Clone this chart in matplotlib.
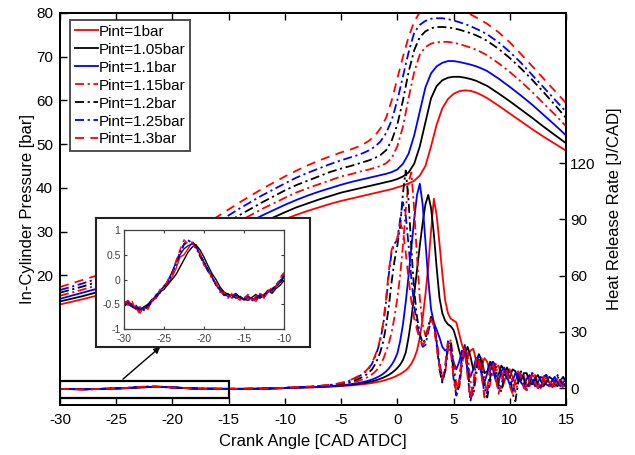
import numpy as np
import matplotlib
matplotlib.use("Agg")
import matplotlib.pyplot as plt
from matplotlib.patches import Rectangle

plt.rcParams['font.family'] = ['Liberation Sans', 'DejaVu Sans']
plt.rcParams['axes.unicode_minus'] = False

# ---------------------------------------------------------------- data
labels = ['Pint=1bar', 'Pint=1.05bar', 'Pint=1.1bar', 'Pint=1.15bar',
          'Pint=1.2bar', 'Pint=1.25bar', 'Pint=1.3bar']
colors = ['#ff0000', '#000000', '#0000ff', '#ff0000', '#000000', '#0000ff', '#ff0000']
DASHDOT = (0, (5, 2, 1.2, 2))
DASHED = (0, (5, 3.5))
styles = ['-', '-', '-', DASHDOT, DASHDOT, DASHDOT, DASHED]

# crank angle samples of the pressure traces
cad_p = np.concatenate([np.arange(-30, -9, 2), np.arange(-9, -3.5, 1),
                        np.arange(-3.5, 8.01, 0.5), np.arange(9, 15.01, 1)])

p_100 = [13.3, 14.5, 15.8, 17.3, 19.0, 21.0, 23.2, 25.7, 28.2, 30.6, 32.8,
         33.8, 34.7, 35.5, 36.3, 37.0, 37.6,
         37.9, 38.2, 38.5, 38.8, 39.1, 39.4, 39.7, 40.1, 40.5, 41.0, 41.6, 42.8,
         45.0, 49.5, 54.5, 58.2, 60.3, 61.5, 62.1, 62.3, 62.2, 61.8, 61.2, 60.5,
         58.8, 57.0, 55.2, 53.4, 51.7, 50.1, 48.5]
p_105 = [14.0, 15.2, 16.6, 18.2, 20.0, 22.1, 24.4, 27.0, 29.6, 32.1, 34.4,
         35.5, 36.4, 37.3, 38.1, 38.9, 39.5,
         39.8, 40.1, 40.4, 40.7, 41.0, 41.3, 41.6, 42.0, 42.6, 43.5, 45.5, 49.5,
         55.0, 60.5, 63.3, 64.6, 65.2, 65.4, 65.4, 65.2, 64.9, 64.5, 63.9, 63.3,
         61.6, 59.8, 57.9, 56.0, 54.0, 52.1, 50.2]
p_110 = [14.6, 16.0, 17.4, 19.0, 20.9, 23.1, 25.5, 28.3, 31.0, 33.7, 36.1,
         37.2, 38.2, 39.1, 39.9, 40.7, 41.4,
         41.7, 42.0, 42.3, 42.6, 42.9, 43.2, 43.6, 44.2, 45.5, 47.8, 52.0, 57.5,
         63.0, 66.2, 67.8, 68.6, 69.0, 69.0, 68.8, 68.5, 68.2, 67.8, 67.3, 66.7,
         65.0, 63.1, 61.1, 59.0, 56.7, 54.4, 52.0]
p_115 = [15.3, 16.7, 18.2, 19.9, 21.9, 24.2, 26.7, 29.6, 32.4, 35.2, 37.7,
         38.9, 39.9, 40.8, 41.7, 42.6, 43.2,
         43.6, 43.9, 44.2, 44.6, 45.0, 45.6, 46.8, 49.5, 54.0, 60.5, 66.5, 70.5,
         72.2, 73.0, 73.3, 73.4, 73.4, 73.2, 72.9, 72.5, 72.1, 71.6, 71.0, 70.3,
         68.5, 66.5, 64.3, 61.9, 59.3, 56.8, 54.1]
p_120 = [16.0, 17.4, 19.0, 20.8, 22.8, 25.2, 27.8, 30.8, 33.8, 36.7, 39.4,
         40.6, 41.6, 42.6, 43.6, 44.4, 45.1,
         45.5, 45.9, 46.3, 46.8, 47.5, 48.6, 50.8, 54.5, 60.0, 66.5, 71.5, 74.5,
         75.8, 76.5, 76.8, 76.8, 76.7, 76.5, 76.2, 75.8, 75.4, 74.9, 74.3, 73.6,
         71.8, 69.7, 67.3, 64.7, 61.9, 59.0, 56.0]
p_125 = [16.6, 18.1, 19.8, 21.6, 23.8, 26.3, 29.0, 32.1, 35.3, 38.3, 41.0,
         42.3, 43.4, 44.4, 45.4, 46.3, 47.1,
         47.5, 48.0, 48.6, 49.4, 50.6, 52.5, 55.5, 60.0, 65.5, 71.0, 75.5, 77.3,
         78.2, 78.7, 78.8, 78.8, 78.6, 78.3, 77.9, 77.5, 77.0, 76.4, 75.8, 75.1,
         73.3, 71.1, 68.6, 65.8, 63.0, 60.2, 57.4]
p_130 = [17.3, 18.9, 20.5, 22.5, 24.7, 27.3, 30.2, 33.4, 36.7, 39.8, 42.6,
         43.9, 45.1, 46.2, 47.2, 48.1, 48.9,
         49.4, 50.0, 50.8, 51.9, 53.6, 56.0, 60.0, 65.0, 70.0, 74.5, 78.0, 80.2,
         81.2, 81.7, 81.9, 81.8, 81.6, 81.2, 80.8, 80.3, 79.7, 79.0, 78.3, 77.5,
         75.6, 73.3, 70.6, 67.8, 65.0, 62.2, 59.4]

# crank angle samples of the heat release traces
cad_h_early = np.arange(-30, -9.9, 0.5)
cad_h_late = np.concatenate([np.arange(-9.5, -2.9, 0.5), np.arange(-2.75, 15.01, 0.25)])

# -30 .. -10 CAD (shown enlarged in the inset)
hrr_early_100 = [-0.48, -0.42, -0.52, -0.58, -0.55, -0.62, -0.5, -0.45, -0.3, -0.28,
                 -0.12, -0.08, 0.05, 0.22, 0.45, 0.5, 0.62, 0.74, 0.7, 0.52,
                 0.36, 0.18, 0.08, -0.12, -0.18, -0.32, -0.28, -0.38, -0.3, -0.36,
                 -0.42, -0.33, -0.4, -0.44, -0.32, -0.3, -0.22, -0.24, -0.12, -0.05,
                 0.05]
hrr_early_105 = [-0.52, -0.5, -0.55, -0.6, -0.62, -0.55, -0.5, -0.4, -0.38, -0.25,
                 -0.2, -0.1, 0.0, 0.1, 0.25, 0.4, 0.55, 0.65, 0.7, 0.6,
                 0.45, 0.28, 0.12, 0.0, -0.15, -0.25, -0.3, -0.32, -0.38, -0.34,
                 -0.4, -0.42, -0.36, -0.3, -0.38, -0.32, -0.22, -0.28, -0.18, -0.12,
                 -0.02]
hrr_early_110 = [-0.5, -0.48, -0.52, -0.56, -0.6, -0.58, -0.52, -0.42, -0.33, -0.22,
                 -0.15, -0.02, 0.15, 0.35, 0.5, 0.62, 0.68, 0.72, 0.66, 0.5,
                 0.34, 0.2, 0.04, -0.1, -0.22, -0.3, -0.34, -0.32, -0.28, -0.38,
                 -0.4, -0.36, -0.38, -0.4, -0.3, -0.36, -0.26, -0.2, -0.16, -0.06,
                 0.08]
hrr_early_115 = [-0.45, -0.5, -0.48, -0.6, -0.65, -0.6, -0.58, -0.45, -0.35, -0.25,
                 -0.18, -0.05, 0.1, 0.32, 0.55, 0.72, 0.78, 0.75, 0.62, 0.48,
                 0.3, 0.18, 0.02, -0.08, -0.24, -0.28, -0.36, -0.3, -0.34, -0.4,
                 -0.38, -0.3, -0.44, -0.38, -0.28, -0.36, -0.26, -0.18, -0.14, 0.0,
                 0.12]
hrr_early_120 = [-0.55, -0.45, -0.5, -0.58, -0.58, -0.62, -0.52, -0.46, -0.34, -0.26,
                 -0.16, -0.06, 0.12, 0.3, 0.52, 0.7, 0.76, 0.78, 0.66, 0.5,
                 0.36, 0.2, 0.06, -0.1, -0.2, -0.3, -0.3, -0.36, -0.32, -0.34,
                 -0.42, -0.36, -0.4, -0.38, -0.34, -0.32, -0.24, -0.2, -0.12, -0.08,
                 0.06]
hrr_early_125 = [-0.5, -0.46, -0.55, -0.52, -0.62, -0.6, -0.55, -0.44, -0.36, -0.24,
                 -0.14, -0.04, 0.14, 0.34, 0.56, 0.72, 0.8, 0.74, 0.64, 0.46,
                 0.32, 0.16, 0.04, -0.12, -0.22, -0.32, -0.34, -0.36, -0.3, -0.36,
                 -0.4, -0.34, -0.42, -0.36, -0.32, -0.34, -0.22, -0.22, -0.1, -0.02,
                 0.1]
hrr_early_130 = [-0.42, -0.52, -0.44, -0.62, -0.68, -0.56, -0.6, -0.42, -0.38, -0.2,
                 -0.2, 0.0, 0.08, 0.38, 0.6, 0.8, 0.72, 0.76, 0.6, 0.54,
                 0.28, 0.22, 0.0, -0.06, -0.26, -0.26, -0.38, -0.28, -0.36, -0.42,
                 -0.34, -0.38, -0.46, -0.32, -0.26, -0.38, -0.24, -0.16, -0.16, 0.04,
                 0.14]

# -9.5 .. 15 CAD
hrr_late_100 = [0.2, 0.2, 0.3, 0.4, 0.4, 0.5, 0.6, 0.8, 0.9, 1.1, 1.3, 1.5, 1.8, 2.1,
                2.3, 2.5, 2.7, 3.0, 3.3, 3.6, 4.0, 4.4, 4.9, 5.4, 6.0, 6.7,
                7.5, 8.4, 9.5, 11, 13, 16, 20, 27, 37, 50, 65, 84,
                101, 92, 77, 61, 47, 40, 37, 36, 35, 29, 23, 19,
                17, 20, 21, 15, 10, 12, 16, 14, 8, 7, 11, 12,
                7, 4, 7, 9, 6, 2, 3, 7, 6, 2, 1, 4,
                5, 3, 0, 2, 4, 3, 1, 1, 3, 3, 1, 2]
hrr_late_105 = [0.2, 0.3, 0.3, 0.4, 0.5, 0.6, 0.8, 0.9, 1.1, 1.3, 1.6, 1.9, 2.3, 2.7,
                3.0, 3.3, 3.6, 4.0, 4.5, 5.0, 5.6, 6.3, 7.1, 8.1, 9.3, 10.7,
                12.5, 15, 19, 27, 37, 50, 63, 76, 88, 98, 103, 96,
                82, 64, 48, 40, 36, 34, 33, 31, 26, 20, 15, 18,
                22, 17, 10, 13, 18, 15, 8, 9, 14, 12, 6, 7,
                12, 10, 5, 6, 10, 9, 4, 4, 8, 8, 3, 2,
                5, 7, 4, 1, 3, 6, 5, 2, 1, 4, 6, 3]
hrr_late_110 = [0.2, 0.3, 0.4, 0.5, 0.6, 0.7, 0.9, 1.1, 1.3, 1.5, 1.8, 2.2, 2.7, 3.3,
                3.7, 4.1, 4.6, 5.2, 5.9, 6.7, 7.7, 8.9, 10.5, 12.5, 15, 18.5,
                25, 34, 46, 60, 75, 90, 103, 109, 98, 78, 58, 42,
                35, 31, 27, 22, 20, 21, 20, 14, 10, 14, 20, 18,
                10, 6, 10, 16, 14, 7, 3, 8, 13, 10, 4, 3,
                9, 11, 6, 2, 4, 8, 7, 3, 1, 5, 7, 4,
                1, 3, 6, 5, 2, 1, 4, 6, 3, 1, 3, 5]
hrr_late_115 = [0.3, 0.4, 0.5, 0.6, 0.7, 0.9, 1.1, 1.3, 1.6, 1.9, 2.4, 3.0, 3.8, 4.8,
                5.5, 6.3, 7.3, 8.6, 10.2, 12.5, 15.5, 19.5, 24, 30, 38, 48,
                60, 76, 95, 110, 115, 95, 70, 48, 34, 28, 32, 38,
                36, 26, 14, 6, 8, 20, 26, 14, 2, 0, 12, 22,
                18, 4, -4, 6, 16, 16, 4, -3, 2, 12, 13, 4,
                -1, 3, 10, 10, 3, -2, 3, 8, 7, 1, 1, 6,
                7, 3, 0, 3, 6, 5, 1, 2, 5, 5, 2, 1]
hrr_late_120 = [0.3, 0.4, 0.5, 0.6, 0.8, 1.0, 1.2, 1.5, 1.8, 2.2, 2.8, 3.6, 4.8, 6.2,
                7.2, 8.5, 10, 12.5, 15.5, 19.5, 25, 33, 44, 57, 68, 76,
                86, 104, 116, 100, 74, 52, 38, 29, 24, 26, 33, 38,
                34, 23, 10, 3, 9, 23, 24, 8, -3, 1, 15, 23,
                12, -5, -3, 10, 18, 12, 0, -5, 5, 14, 11, 2,
                -2, 6, 11, 7, -3, -7, 3, 9, 5, -1, 3, 8,
                6, 1, 1, 6, 7, 3, 1, 3, 6, 4, 1, 2]
hrr_late_125 = [0.4, 0.5, 0.6, 0.7, 0.9, 1.1, 1.4, 1.7, 2.1, 2.6, 3.4, 4.5, 6.0, 7.8,
                9, 10.8, 13, 16.5, 20.5, 26, 34, 46, 61, 73, 77, 79,
                90, 99, 92, 76, 58, 44, 34, 27, 22, 23, 30, 36,
                35, 24, 12, 4, 10, 25, 22, 5, -4, 3, 18, 22,
                8, -7, 0, 14, 18, 9, -4, -2, 9, 15, 8, -1,
                1, 10, 11, 3, -2, 2, 8, 8, 2, -1, 4, 8,
                5, 0, 1, 6, 7, 2, 0, 4, 7, 3, 0, 4]
hrr_late_130 = [0.4, 0.5, 0.6, 0.8, 1.0, 1.2, 1.5, 1.8, 2.2, 2.8, 3.6, 4.8, 6.3, 8.2,
                9.5, 11.2, 13.5, 17, 21, 27, 35, 48, 63, 74, 77, 80,
                88, 84, 72, 58, 46, 37, 31, 26, 23, 25, 32, 37,
                33, 22, 11, 5, 12, 24, 20, 6, -2, 4, 17, 21,
                6, -6, 2, 15, 17, 6, -5, 0, 11, 14, 5, -3,
                3, 11, 9, 1, -3, 4, 9, 6, 0, -1, 5, 7,
                3, 0, 2, 6, 5, 1, 1, 4, 5, 2, 1, 3]

pressures = [p_100, p_105, p_110, p_115, p_120, p_125, p_130]
hrr_early = [hrr_early_100, hrr_early_105, hrr_early_110, hrr_early_115,
             hrr_early_120, hrr_early_125, hrr_early_130]
hrr_late = [hrr_late_100, hrr_late_105, hrr_late_110, hrr_late_115,
            hrr_late_120, hrr_late_125, hrr_late_130]
cad_h = np.concatenate([cad_h_early, cad_h_late])

# ---------------------------------------------------------------- figure
W, H = 635, 455
fig = plt.figure(figsize=(W / 100, H / 100), dpi=100)
ax = fig.add_axes([60 / W, 1 - 405 / H, 506 / W, 392 / H])
ax2 = ax.twinx()

LW = 1.3
for p, c, ls, lab in zip(pressures, colors, styles, labels):
    ax.plot(cad_p, p, color=c, linestyle=ls, lw=LW, label=lab)
for he, hl, c, ls in zip(hrr_early, hrr_late, colors, styles):
    ax2.plot(cad_h, np.concatenate([he, hl]), color=c, linestyle=ls, lw=LW)

ax.set_xlim(-30, 15)
ax.set_xticks(np.arange(-30, 16, 5))
ax.set_ylim(-9.7, 80)
ax.set_yticks([20, 30, 40, 50, 60, 70, 80])
ax2.set_ylim(-9, 200)
ax2.set_yticks([0, 30, 60, 90, 120])

TICK_FS = 11
for a in (ax, ax2):
    for s in a.spines.values():
        s.set_linewidth(1.3)
ax.tick_params(axis='x', direction='in', length=5, width=1, top=True,
               labelsize=TICK_FS, pad=6)
ax.tick_params(axis='y', direction='in', length=5, width=1, right=False,
               labelsize=TICK_FS, pad=5)
ax2.tick_params(axis='y', direction='in', length=5, width=1,
                labelsize=TICK_FS, pad=3)

ax.set_xlabel('Crank Angle [CAD ATDC]', fontsize=12, labelpad=5)
ax.set_ylabel('In-Cylinder Pressure [bar]', fontsize=12, labelpad=1)
ax2.set_ylabel('Heat Release Rate [J/CAD]', fontsize=12, labelpad=8)

leg = ax.legend(loc='upper left', bbox_to_anchor=(0.02, 0.982), borderaxespad=0,
                fontsize=11, frameon=True, fancybox=False, handlelength=1.5,
                handletextpad=0.1, labelspacing=0.26, borderpad=0.3)
leg.get_frame().set_edgecolor('#222222')
leg.get_frame().set_linewidth(1.4)

# zoom window on the main plot
ax2.add_patch(Rectangle((-30, -5.3), 15, 9, fill=False, ec='black', lw=1.6, zorder=5))

# inset panel
box = fig.add_axes([96 / W, 1 - 347 / H, 214 / W, 129 / H])
box.set_facecolor('white')
box.set_xticks([])
box.set_yticks([])
for s in box.spines.values():
    s.set_linewidth(1.5)
    s.set_color('#222222')

ins = fig.add_axes([124 / W, 1 - 329 / H, 160 / W, 99 / H])
for he, c, ls in zip(hrr_early, colors, styles):
    ins.plot(cad_h_early, he, color=c, linestyle=ls, lw=1.0)
ins.set_xlim(-30, -10)
ins.set_ylim(-1, 1)
ins.set_xticks([-30, -25, -20, -15, -10])
ins.set_yticks([-1, -0.5, 0, 0.5, 1])
ins.set_yticklabels(['-1', '-0.5', '0', '0.5', '1'])
ins.tick_params(direction='in', length=2.5, width=0.8, top=True, right=True,
                labelsize=7.5, colors='#404040')
ins.tick_params(axis='x', pad=3.5)
ins.tick_params(axis='y', pad=2.5)
for s in ins.spines.values():
    s.set_linewidth(0.9)
    s.set_color('#404040')

ax2.annotate('', xy=(0.30, 0.0), xycoords=box.transAxes,
             xytext=(-24.4, 4.8), textcoords='data',
             arrowprops=dict(arrowstyle='-|>', color='black', lw=1.0,
                             mutation_scale=9, shrinkA=0, shrinkB=0))

fig.savefig('out.png', dpi=100)
